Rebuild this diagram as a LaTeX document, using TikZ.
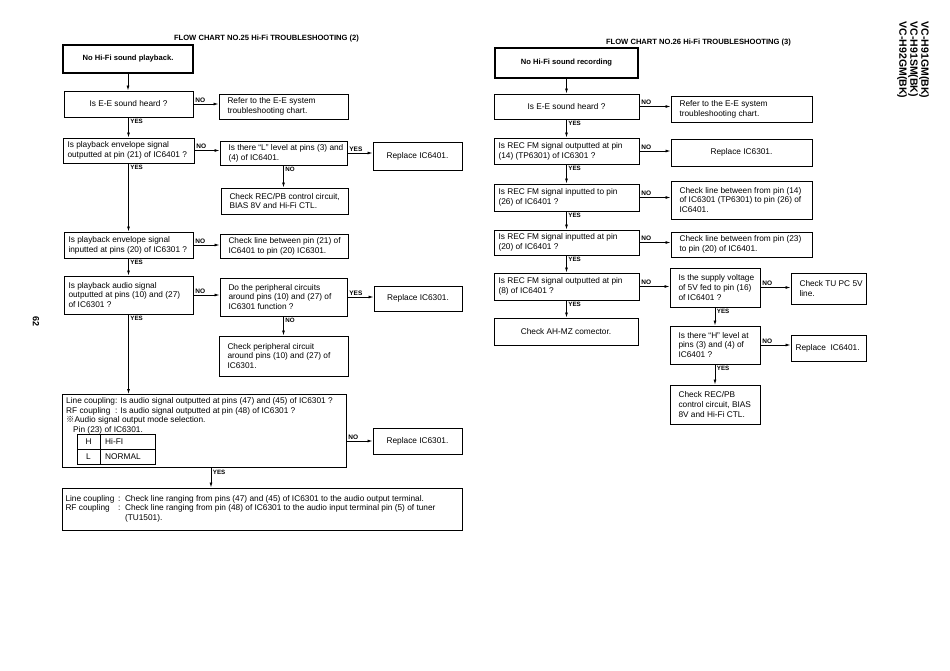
\documentclass[tikz,border=0pt]{standalone}
\usepackage{fontspec}
\setmainfont{Liberation Sans}
\newfontfamily\cjkfont{Noto Sans CJK JP}
\usetikzlibrary{arrows.meta}
% left-aligned box: name x1 y1 x2 y2 pad text
\newcommand\mkbox[7]{%
  \pgfmathsetmacro\mybw{#4-#2}%
  \pgfmathsetmacro\mybh{#5-#3}%
  \pgfmathsetmacro\mytw{#4-#2-#6-1}%
  \node[box,minimum width=\mybw pt,minimum height=\mybh pt] (#1) at ({(#2+#4)/2},{(#3+#5)/2})
    {\hspace*{#6pt}\parbox[c]{\mytw pt}{\raggedright #7}};}
% centred box: name x1 y1 x2 y2 options text
\newcommand\mkcbox[7]{%
  \pgfmathsetmacro\mybw{#4-#2}%
  \pgfmathsetmacro\mybh{#5-#3}%
  \node[box,align=center,minimum width=\mybw pt,minimum height=\mybh pt,#6] (#1) at ({(#2+#4)/2},{(#3+#5)/2}) {#7};}
\tikzset{
  box/.style={draw,line width=1pt,inner xsep=0pt,inner ysep=1pt,
    font=\fontsize{8.3}{9.7}\selectfont},
  startbox/.style={line width=1.7pt,font=\fontsize{7.6}{9}\selectfont\bfseries},
  arr/.style={line width=0.8pt,-{Latex[length=5pt,width=3pt]}},
  nolab/.style={pos=0,anchor=south west,inner sep=1.5pt,font=\fontsize{6.5}{7}\selectfont\bfseries},
  yeslab/.style={pos=0,anchor=north west,inner sep=1.5pt,font=\fontsize{6.2}{7}\selectfont\bfseries},
  title/.style={font=\fontsize{7.6}{8}\selectfont\bfseries},
  plain/.style={inner sep=0pt,font=\fontsize{8.3}{9.7}\selectfont}
}
\begin{document}
\begin{tikzpicture}[x=1pt,y=-1pt]
\fill[white] (0,0) rectangle (950,670);
\useasboundingbox (0,0) rectangle (950,670);

% ---------------- left chart ----------------
\node[title] (t1) at (266.5,38.5) {FLOW CHART NO.25 Hi-Fi TROUBLESHOOTING (2)};
\mkcbox{s1}{63}{45}{193}{73}{startbox}{No Hi-Fi sound playback.}
\mkcbox{q1}{64}{91}{193}{117}{}{Is E-E sound heard ?}
\mkbox{r1}{219}{94}{348}{119}{8}{Refer to the E-E system\\troubleshooting chart.}
\mkbox{q2}{63}{138}{194}{163}{4}{Is playback envelope signal\\outputted at pin (21) of IC6401 ?}
\mkbox{a2}{220}{141}{347}{165}{8}{Is there “L” level at pins (3) and\\(4) of IC6401.}
\mkcbox{r2}{373}{142}{462}{170}{}{Replace IC6401.}
\mkbox{c2}{221}{188}{348}{214}{8}{Check REC/PB control circuit,\\BIAS 8V and Hi-Fi CTL.}
\mkbox{q3}{64}{232}{193}{258}{4}{Is playback envelope signal\\inputted at pins (20) of IC6301 ?}
\mkbox{c3}{220}{234}{348}{258}{8}{Check line between pin (21) of\\IC6401 to pin (20) IC6301.}
\mkbox{q4}{64}{276}{193}{314}{4}{Is playback audio signal\\outputted at pins (10) and (27)\\of IC6301 ?}
\mkbox{a4}{220}{278}{347}{316}{8}{Do the peripheral circuits\\around pins (10) and (27) of\\IC6301 function ?}
\mkcbox{r4}{374}{286}{462}{311}{}{Replace IC6301.}
\mkbox{c4}{219}{336}{348}{376}{8}{Check peripheral circuit\\around pins (10) and (27) of\\IC6301.}
\node[draw,line width=1pt,minimum width=284pt,minimum height=73pt,inner sep=0pt] (q5) at (204,431) {};
\node[plain,anchor=north west] (q5t) at (66,396.5) {\begin{tabular}{@{}l@{: }l@{}}
Line coupling & Is audio signal outputted at pins (47) and (45) of IC6301 ?\\
RF coupling & Is audio signal outputted at pin (48) of IC6301 ?\\
\multicolumn{2}{@{}l@{}}{{\cjkfont ※}Audio signal output mode selection.}\\
\multicolumn{2}{@{}l@{}}{\hspace*{7pt}Pin (23) of IC6301.}
\end{tabular}};
\draw[line width=0.8pt] (77,434) rectangle (155,464) (77,449) -- (155,449) (100,434) -- (100,464);
\node[plain] (th) at (88.5,441.5) {H};
\node[plain,anchor=west] (thv) at (105,441.5) {Hi-FI};
\node[plain] (tl) at (88.5,456.5) {L};
\node[plain,anchor=west] (tlv) at (105,456.5) {NORMAL};
\mkcbox{r5}{373}{428}{462}{454}{}{Replace IC6301.}
\mkbox{c5}{62}{488}{462}{530}{3}{\begin{tabular}{@{}l@{\ \,:\ \ }p{332pt}@{}}
Line coupling & Check line ranging from pins (47) and (45) of IC6301 to the audio output terminal.\\
RF coupling & Check line ranging from pin (48) of IC6301 to the audio input terminal pin (5) of tuner\newline (TU1501).
\end{tabular}}

\draw[arr] (s1.south) -- (s1.south |- q1.north);
\draw[arr] (q1.east) -- node[nolab] (n1) {NO} (q1.east -| r1.west);
\draw[arr] (q1.south) -- node[yeslab] (y1) {YES} (q1.south |- q2.north);
\draw[arr] (q2.east) -- node[nolab] (n2) {NO} (q2.east -| a2.west);
\draw[arr] (a2.east) -- node[nolab] (y2a) {YES} (a2.east -| r2.west);
\draw[arr] (a2.south) -- node[yeslab] (n2a) {NO} (a2.south |- c2.north);
\draw[arr] (q2.south) -- node[yeslab] (y2) {YES} (q2.south |- q3.north);
\draw[arr] (q3.east) -- node[nolab] (n3) {NO} (q3.east -| c3.west);
\draw[arr] (q3.south) -- node[yeslab] (y3) {YES} (q3.south |- q4.north);
\draw[arr] (q4.east) -- node[nolab] (n4) {NO} (q4.east -| a4.west);
\draw[arr] (a4.east) -- node[nolab] (y4a) {YES} (a4.east -| r4.west);
\draw[arr] (a4.south) -- node[yeslab] (n4a) {NO} (a4.south |- c4.north);
\draw[arr] (q4.south) -- node[yeslab] (y4) {YES} (q4.south |- q5.north);
\draw[arr] (q5.east |- r5.west) -- node[nolab] (n5) {NO} (r5.west);
\draw[arr] ([xshift=7pt]q5.south) -- node[yeslab] (y5) {YES} ([xshift=7pt]q5.south |- c5.north);

% ---------------- right chart ----------------
\node[title] (t2) at (698.5,42.5) {FLOW CHART NO.26 Hi-Fi TROUBLESHOOTING (3)};
\mkcbox{s2}{495}{48}{638}{78}{startbox}{No Hi-Fi sound recording}
\mkcbox{rq1}{494}{94}{639}{119}{}{Is E-E sound heard ?}
\mkbox{rr1}{671}{96}{812}{122}{8}{Refer to the E-E system\\troubleshooting chart.}
\mkbox{rq2}{494}{138}{639}{164}{4}{Is REC FM signal outputted at pin\\(14) (TP6301) of IC6301 ?}
\mkcbox{rr2}{671}{139}{812}{166}{}{Replace IC6301.}
\mkbox{rq3}{494}{184}{639}{211}{4}{Is REC FM signal inputted to pin\\(26) of IC6401 ?}
\mkbox{rr3}{671}{181}{812}{219}{8}{Check line between from pin (14)\\of IC6301 (TP6301) to pin (26) of\\IC6401.}
\mkbox{rq4}{494}{230}{639}{255}{4}{Is REC FM signal inputted at pin\\(20) of IC6401 ?}
\mkbox{rr4}{671}{232}{812}{257}{8}{Check line between from pin (23)\\to pin (20) of IC6401.}
\mkbox{rq5}{494}{273}{639}{300}{4}{Is REC FM signal outputted at pin\\(8) of IC6401 ?}
\mkcbox{rc5}{494}{318}{638}{345}{}{Check AH-MZ comector.}
\mkbox{ra5}{670}{268}{760}{307}{8}{Is the supply voltage\\of 5V fed to pin (16)\\of IC6401 ?}
\mkbox{rr5}{791}{273}{866}{304}{8}{Check TU PC 5V\\line.}
\mkbox{ra6}{670}{326}{760}{364}{8}{Is there “H” level at\\pins (3) and (4) of\\IC6401 ?}
\mkbox{rr6}{791}{335}{866}{361}{4}{Replace\ \ IC6401.}
\mkbox{rc6}{670}{385}{760}{424}{8}{Check REC/PB\\control circuit, BIAS\\8V and Hi-Fi CTL.}

\draw[arr] (s2.south) -- (s2.south |- rq1.north);
\draw[arr] (rq1.east) -- node[nolab] (rn1) {NO} (rq1.east -| rr1.west);
\draw[arr] (rq1.south) -- node[yeslab] (ry1) {YES} (rq1.south |- rq2.north);
\draw[arr] (rq2.east) -- node[nolab] (rn2) {NO} (rq2.east -| rr2.west);
\draw[arr] (rq2.south) -- node[yeslab] (ry2) {YES} (rq2.south |- rq3.north);
\draw[arr] (rq3.east) -- node[nolab] (rn3) {NO} (rq3.east -| rr3.west);
\draw[arr] (rq3.south) -- node[yeslab] (ry3) {YES} (rq3.south |- rq4.north);
\draw[arr] (rq4.east) -- node[nolab] (rn4) {NO} (rq4.east -| rr4.west);
\draw[arr] (rq4.south) -- node[yeslab] (ry4) {YES} (rq4.south |- rq5.north);
\draw[arr] (rq5.east) -- node[nolab] (rn5) {NO} (rq5.east -| ra5.west);
\draw[arr] (rq5.south) -- node[yeslab] (ry5) {YES} (rq5.south |- rc5.north);
\draw[arr] (ra5.east) -- node[nolab] (rn6) {NO} (ra5.east -| rr5.west);
\draw[arr] (ra5.south) -- node[yeslab] (ry6) {YES} (ra5.south |- ra6.north);
\draw[arr] (ra6.east) -- node[nolab] (rn7) {NO} (ra6.east -| rr6.west);
\draw[arr] (ra6.south) -- node[yeslab] (ry7) {YES} (ra6.south |- rc6.north);

% ---------------- page marks ----------------
\node[rotate=-90,font=\fontsize{9}{10}\selectfont\bfseries] (pg) at (36,321) {62};
\node[rotate=-90,align=left,inner sep=0pt,font=\fontsize{10.5}{11}\selectfont\bfseries] (model) at (913,60) {VC-H91GM(BK)\\VC-H91SM(BK)\\VC-H92GM(BK)};
\end{tikzpicture}
\end{document}
